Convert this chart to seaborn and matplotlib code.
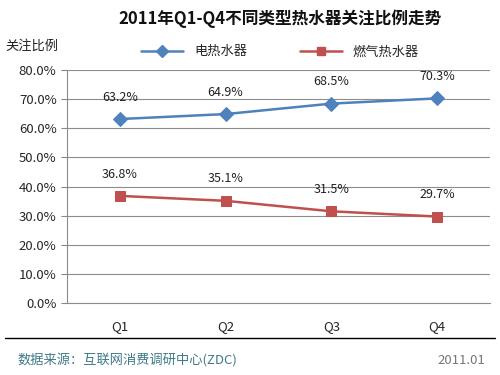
import matplotlib
matplotlib.use("Agg")
import matplotlib.pyplot as plt
import pandas as pd
import seaborn as sns
from matplotlib.lines import Line2D

# 数据
quarters = ["Q1", "Q2", "Q3", "Q4"]
electric = [63.2, 64.9, 68.5, 70.3]
gas = [36.8, 35.1, 31.5, 29.7]
series_names = ["电热水器", "燃气热水器"]

df = pd.DataFrame({
    "quarter": quarters * 2,
    "value": electric + gas,
    "type": [series_names[0]] * 4 + [series_names[1]] * 4,
})

sns.set_style("white")
plt.rcParams['font.family'] = ['Noto Sans CJK SC', 'DejaVu Sans']

fig = plt.figure(figsize=(5, 3.75), dpi=100)
ax = fig.add_axes([0.134, 0.192, 0.846, 0.621])

palette = {series_names[0]: "#4f81bd", series_names[1]: "#c0504d"}
sns.lineplot(data=df, x="quarter", y="value", hue="type", style="type",
             markers={series_names[0]: "D", series_names[1]: "s"},
             dashes=False, palette=palette, linewidth=1.8, markersize=7,
             markeredgecolor=None, ax=ax, legend=False)

# 数据标签
for vals in (electric, gas):
    for i, v in enumerate(vals):
        ax.text(i, v + 7.5, f"{v:.1f}%", ha="center", va="center", fontsize=9, color="#222222")

ax.set_xlim(-0.5, 3.5)
ax.set_ylim(0, 80)
ax.set_yticks(range(0, 81, 10))
ax.set_yticklabels([f"{v:.1f}%" for v in range(0, 81, 10)], fontsize=9.5)
ax.set_xticks(range(4))
ax.set_xticklabels(quarters, fontsize=9.5)
ax.tick_params(axis="x", length=0, pad=12)
ax.set_xticks([-0.5, 0.5, 1.5, 2.5, 3.5], minor=True)
ax.tick_params(axis="x", which="minor", length=4, color="#888888", direction="out")
ax.tick_params(axis="y", length=4, color="#888888", direction="out", left=True)
ax.grid(axis="y", color="#8c8c8c", linewidth=0.8)
ax.set_axisbelow(True)
for s in ("top", "right"):
    ax.spines[s].set_visible(False)
for s in ("left", "bottom"):
    ax.spines[s].set_color("#8c8c8c")
ax.set_xlabel("")
ax.set_ylabel("")

# 图例
handles = [
    Line2D([], [], color="#4f81bd", marker="D", markersize=6, linewidth=1.8),
    Line2D([], [], color="#c0504d", marker="s", markersize=6, linewidth=1.8),
]
fig.legend(handles, series_names, loc="center", bbox_to_anchor=(0.56, 0.862),
           ncol=2, frameon=False, fontsize=9.5, handlelength=3.2, columnspacing=4)

fig.text(0.56, 0.95, "2011年Q1-Q4不同类型热水器关注比例走势", ha="center", va="center",
         fontsize=12, fontweight="bold", color="#111111")
fig.text(0.01, 0.878, "关注比例", ha="left", va="center", fontsize=9.5, color="#222222")

fig.add_artist(Line2D([0.01, 0.99], [0.098, 0.098], color="black", linewidth=1))
fig.text(0.035, 0.04, "数据来源：互联网消费调研中心(ZDC)", ha="left", va="center",
         fontsize=9.5, color="#3d7a8a")
fig.text(0.97, 0.04, "2011.01", ha="right", va="center", fontsize=9.5, color="#777777")

fig.savefig("out.png", dpi=100)
